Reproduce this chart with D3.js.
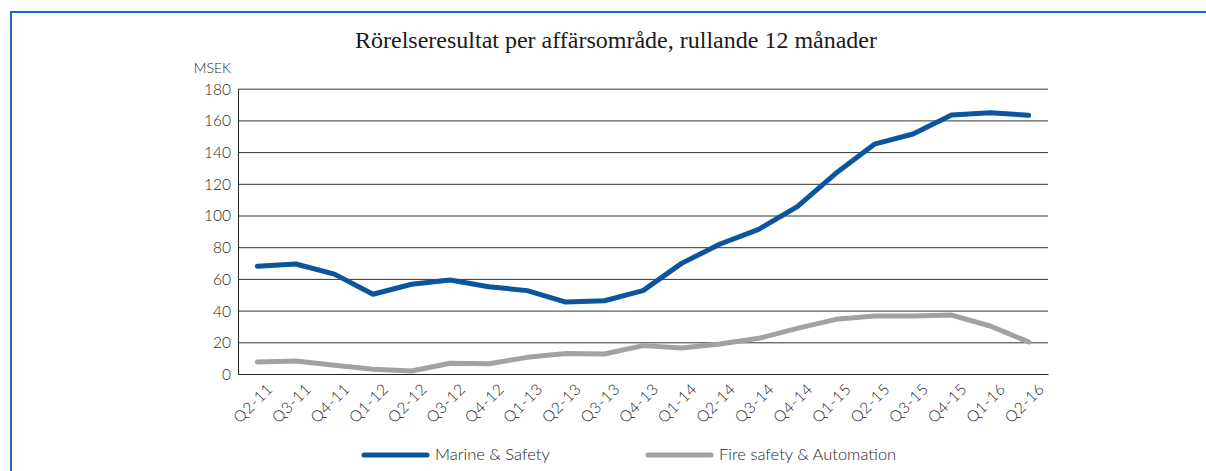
<!DOCTYPE html>
<html>
<head>
<meta charset="utf-8">
<script src="https://cdn.jsdelivr.net/npm/d3@7"></script>
<style>
  html, body { margin: 0; padding: 0; background: #fff; }
  #chart { width: 1206px; height: 471px; }
  .tick text { font-family: Lato, "Open Sans", sans-serif; font-weight: 300; fill: #1e1e1e; }
</style>
</head>
<body>
<div id="chart"></div>
<script>
const quarters = ["Q2-11", "Q3-11", "Q4-11", "Q1-12", "Q2-12", "Q3-12", "Q4-12", "Q1-13", "Q2-13", "Q3-13", "Q4-13",
    "Q1-14", "Q2-14", "Q3-14", "Q4-14", "Q1-15", "Q2-15", "Q3-15", "Q4-15", "Q1-16", "Q2-16"];
const marineSafety = [68, 69.4, 63, 50.3, 56.6, 59.3, 55.1, 52.6, 45.4, 46.2, 52.6,
    69.8, 82, 91.3, 105.6, 126.6, 145, 151.4, 163.4, 164.9, 163.2];
const fireSafety = [7.6, 8.2, 5.5, 3, 1.9, 6.8, 6.5, 10.5, 13, 12.6, 17.9,
    16.4, 18.9, 22.5, 28.8, 34.5, 36.6, 36.6, 37.2, 30.3, 20.2];
const yTicks = [0, 20, 40, 60, 80, 100, 120, 140, 160, 180];

const seriesNames = ["Marine & Safety", "Fire safety & Automation"];
const seriesColors = ["#0b559f", "#a2a2a2"];

const width = 1206, height = 471;
const margin = { top: 88.7, right: 158, bottom: 97, left: 238 };

const svg = d3.select("#chart")
    .append("svg")
    .attr("width", width)
    .attr("height", height);

// blue frame (top and left edges)
svg.append("path")
    .attr("d", `M11,${height} V12 H${width}`)
    .attr("fill", "none")
    .attr("stroke", "#1f6bbd")
    .attr("stroke-width", 2);

const x = d3.scalePoint()
    .domain(quarters)
    .range([margin.left, width - margin.right])
    .padding(0.5);

const y = d3.scaleLinear()
    .domain([0, 180])
    .range([374, margin.top]);

// title
svg.append("text")
    .attr("x", 616)
    .attr("y", 48)
    .attr("text-anchor", "middle")
    .attr("font-family", "'Liberation Serif', 'DejaVu Serif', serif")
    .attr("font-size", 24)
    .attr("fill", "#1a1a1a")
    .text("Rörelseresultat per affärsområde, rullande 12 månader");

svg.append("text")
    .attr("x", 231)
    .attr("y", 73)
    .attr("text-anchor", "end")
    .attr("font-family", "Lato, sans-serif")
    .attr("font-weight", 300)
    .attr("font-size", 14)
    .attr("fill", "#1e1e1e")
    .text("MSEK");

// y axis + gridlines
const yAxis = svg.append("g")
    .attr("transform", `translate(${margin.left},0)`)
    .call(d3.axisLeft(y)
        .tickValues(yTicks)
        .tickSizeInner(-(width - margin.right - margin.left))
        .tickSizeOuter(0)
        .tickPadding(7));
yAxis.select(".domain").attr("stroke", "#222");
yAxis.selectAll(".tick line").attr("stroke", "#333");
yAxis.selectAll(".tick text").attr("font-size", 15.5).attr("dy", "0.35em");

// x axis
const xAxis = svg.append("g")
    .attr("transform", `translate(0,${y(0)})`)
    .call(d3.axisBottom(x).tickSize(0).tickPadding(0));
xAxis.select(".domain").attr("stroke", "#222");
xAxis.selectAll(".tick text")
    .attr("font-size", 15.5)
    .attr("letter-spacing", 0.6)
    .attr("text-anchor", "end")
    .attr("dy", null)
    .attr("y", 0)
    .attr("transform", "translate(16,16) rotate(-45)");

const line = d3.line()
    .x((d, i) => x(quarters[i]))
    .y(d => y(d));

[fireSafety, marineSafety].forEach((values, k) => {
    svg.append("path")
        .datum(values)
        .attr("fill", "none")
        .attr("stroke", seriesColors[1 - k])
        .attr("stroke-width", 5)
        .attr("stroke-linejoin", "round")
        .attr("stroke-linecap", "round")
        .attr("d", line);
});

// legend
const legendX = [364, 648];
const legend = svg.append("g");
seriesNames.forEach((name, i) => {
    legend.append("line")
        .attr("x1", legendX[i])
        .attr("x2", legendX[i] + 63)
        .attr("y1", 455)
        .attr("y2", 455)
        .attr("stroke", seriesColors[i])
        .attr("stroke-width", 5)
        .attr("stroke-linecap", "round");
    legend.append("text")
        .attr("x", legendX[i] + 71)
        .attr("y", 460)
        .attr("font-family", "Lato, sans-serif")
        .attr("font-weight", 300)
        .attr("font-size", 16.5)
        .attr("fill", "#1e1e1e")
        .text(name);
});
</script>
</body>
</html>
